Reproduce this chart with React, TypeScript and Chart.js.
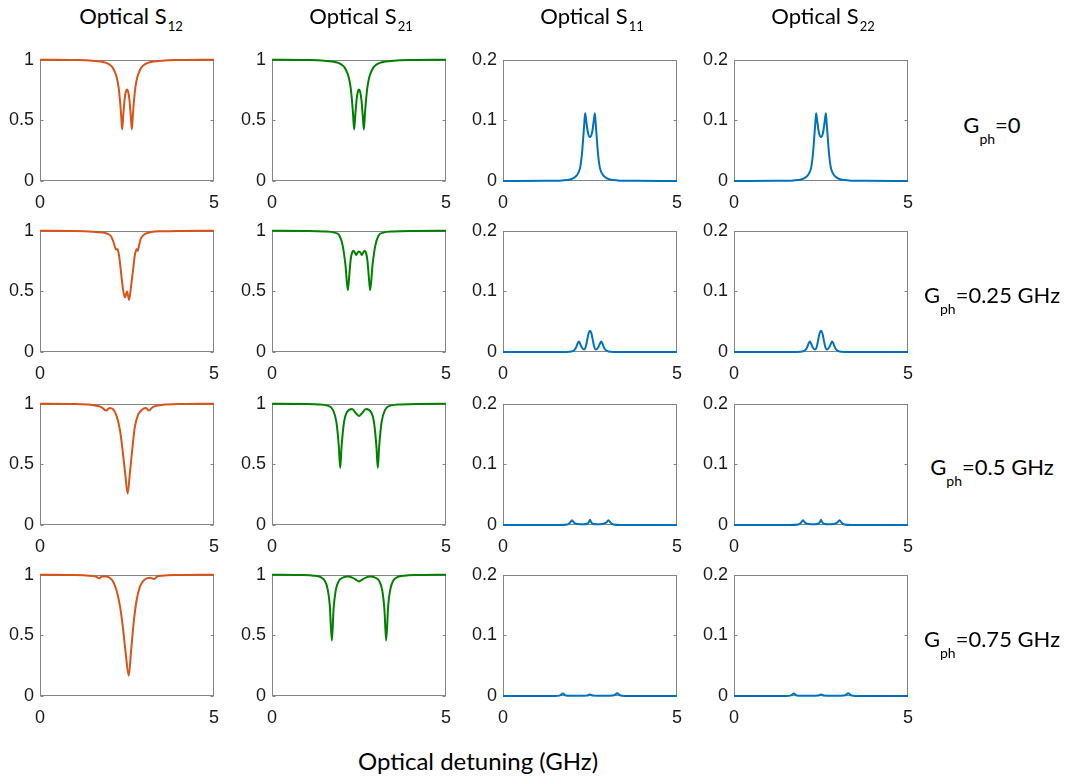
import React, { useEffect, useRef } from "react";
import { Chart, registerables } from "chart.js";

Chart.register(...registerables);

// ---------------- data ----------------
const xTicks = [0, 5];
const transTicks = [0, 0.5, 1];
const reflTicks = [0, 0.1, 0.2];

const columnTitles = ["12", "21", "11", "22"];
const rowLabels = ["=0", "=0.25 GHz", "=0.5 GHz", "=0.75 GHz"];
const axisTitle = "Optical detuning (GHz)";

// Gph = 0 : S12 and S21 (identical)
const tG0X = [0, 1.0, 1.5, 1.75, 1.9, 2.0, 2.08, 2.15, 2.21, 2.26, 2.3, 2.33, 2.36, 2.39, 2.43, 2.47, 2.5, 2.53, 2.57, 2.61, 2.64, 2.67, 2.7, 2.74, 2.79, 2.85, 2.92, 3.0, 3.1, 3.25, 3.5, 4.0, 5.0];
const tG0Y = [1, 0.998, 0.993, 0.985, 0.975, 0.96, 0.94, 0.9, 0.85, 0.77, 0.66, 0.55, 0.425, 0.53, 0.67, 0.74, 0.755, 0.74, 0.67, 0.53, 0.425, 0.55, 0.66, 0.77, 0.85, 0.9, 0.94, 0.96, 0.975, 0.985, 0.993, 0.998, 1];

// Gph = 0.25
const s12G1X = [0, 1.0, 1.5, 1.8, 1.95, 2.04, 2.11, 2.16, 2.19, 2.22, 2.25, 2.28, 2.32, 2.38, 2.44, 2.5, 2.56, 2.62, 2.68, 2.72, 2.75, 2.78, 2.81, 2.84, 2.89, 2.96, 3.05, 3.2, 3.5, 4.0, 5.0];
const s12G1Y = [1, 0.998, 0.993, 0.985, 0.975, 0.955, 0.91, 0.86, 0.845, 0.85, 0.83, 0.78, 0.68, 0.53, 0.45, 0.5, 0.43, 0.55, 0.69, 0.79, 0.83, 0.85, 0.835, 0.87, 0.93, 0.96, 0.978, 0.99, 0.996, 0.999, 1];
const s21G1X = [0, 1.0, 1.5, 1.8, 1.94, 2.03, 2.11, 2.18, 2.22, 2.26, 2.3, 2.34, 2.38, 2.42, 2.46, 2.5, 2.54, 2.58, 2.62, 2.66, 2.7, 2.74, 2.78, 2.82, 2.89, 2.97, 3.06, 3.2, 3.5, 4.0, 5.0];
const s21G1Y = [1, 0.999, 0.995, 0.985, 0.96, 0.88, 0.72, 0.51, 0.63, 0.76, 0.82, 0.835, 0.82, 0.8, 0.82, 0.83, 0.82, 0.8, 0.82, 0.835, 0.82, 0.76, 0.63, 0.51, 0.72, 0.88, 0.96, 0.985, 0.995, 0.999, 1];

// Gph = 0.5
const s12G2X = [0, 1.0, 1.5, 1.75, 1.9, 2.0, 2.1, 2.2, 2.3, 2.38, 2.45, 2.52, 2.58, 2.65, 2.72, 2.82, 2.95, 3.05, 3.12, 3.25, 3.5, 4.0, 5.0];
const s12G2Y = [1, 0.998, 0.99, 0.975, 0.945, 0.965, 0.955, 0.9, 0.78, 0.6, 0.42, 0.26, 0.42, 0.62, 0.8, 0.91, 0.955, 0.965, 0.945, 0.975, 0.99, 0.998, 1];
const s21G2X = [0, 1.0, 1.3, 1.6, 1.75, 1.85, 1.92, 1.96, 2.0, 2.07, 2.15, 2.3, 2.42, 2.5, 2.58, 2.7, 2.85, 2.93, 3.0, 3.04, 3.08, 3.15, 3.25, 3.4, 3.7, 4.2, 5.0];
const s21G2Y = [1, 0.999, 0.995, 0.985, 0.95, 0.85, 0.65, 0.47, 0.65, 0.85, 0.93, 0.957, 0.92, 0.9, 0.92, 0.957, 0.93, 0.85, 0.65, 0.47, 0.65, 0.85, 0.95, 0.985, 0.995, 0.999, 1];

// Gph = 0.75
const s12G3X = [0, 1.0, 1.4, 1.6, 1.7, 1.78, 1.9, 2.0, 2.1, 2.2, 2.3, 2.38, 2.46, 2.55, 2.62, 2.69, 2.77, 2.87, 2.97, 3.07, 3.17, 3.28, 3.36, 3.5, 4.0, 5.0];
const s12G3Y = [1, 0.998, 0.993, 0.985, 0.972, 0.985, 0.985, 0.975, 0.945, 0.87, 0.74, 0.57, 0.36, 0.168, 0.38, 0.6, 0.78, 0.9, 0.95, 0.97, 0.975, 0.965, 0.985, 0.993, 0.998, 1];
const s21G3X = [0, 0.8, 1.2, 1.4, 1.52, 1.6, 1.66, 1.72, 1.77, 1.83, 1.92, 2.05, 2.18, 2.32, 2.44, 2.5, 2.56, 2.68, 2.82, 2.95, 3.08, 3.17, 3.23, 3.28, 3.34, 3.4, 3.48, 3.6, 3.8, 4.2, 5.0];
const s21G3Y = [1, 0.998, 0.993, 0.98, 0.95, 0.88, 0.75, 0.457, 0.72, 0.87, 0.95, 0.978, 0.985, 0.975, 0.955, 0.944, 0.955, 0.975, 0.985, 0.978, 0.95, 0.87, 0.72, 0.457, 0.75, 0.88, 0.95, 0.98, 0.993, 0.998, 1];

// reflection S11 / S22
const rG0X = [0, 1.2, 1.7, 1.95, 2.08, 2.16, 2.22, 2.27, 2.31, 2.34, 2.36, 2.39, 2.44, 2.5, 2.56, 2.61, 2.64, 2.66, 2.69, 2.73, 2.78, 2.84, 2.92, 3.05, 3.3, 3.8, 5.0];
const rG0Y = [0, 0.0003, 0.001, 0.003, 0.007, 0.013, 0.023, 0.045, 0.075, 0.098, 0.112, 0.1, 0.08, 0.0726, 0.08, 0.1, 0.112, 0.098, 0.075, 0.045, 0.023, 0.013, 0.007, 0.003, 0.001, 0.0003, 0];
const rG1X = [0, 1.5, 1.9, 2.0, 2.06, 2.11, 2.15, 2.18, 2.22, 2.27, 2.33, 2.38, 2.42, 2.46, 2.5, 2.54, 2.58, 2.62, 2.67, 2.73, 2.78, 2.82, 2.85, 2.89, 2.94, 3.0, 3.1, 3.5, 5.0];
const rG1Y = [0, 0, 0.0005, 0.0015, 0.004, 0.009, 0.015, 0.0173, 0.013, 0.007, 0.004, 0.009, 0.02, 0.031, 0.035, 0.031, 0.02, 0.009, 0.004, 0.007, 0.013, 0.0173, 0.015, 0.009, 0.004, 0.0015, 0.0005, 0, 0];
const rG2X = [0, 1.6, 1.85, 1.93, 1.98, 2.04, 2.15, 2.3, 2.42, 2.47, 2.5, 2.53, 2.58, 2.7, 2.85, 2.97, 3.03, 3.09, 3.17, 3.4, 5.0];
const rG2Y = [0, 0, 0.0008, 0.004, 0.0078, 0.004, 0.0015, 0.0012, 0.002, 0.005, 0.0085, 0.005, 0.002, 0.0012, 0.0015, 0.004, 0.008, 0.004, 0.0008, 0, 0];
const rG3X = [0, 1.5, 1.64, 1.72, 1.8, 1.95, 2.2, 2.42, 2.5, 2.58, 2.8, 3.05, 3.2, 3.28, 3.36, 3.5, 5.0];
const rG3Y = [0, 0, 0.001, 0.004, 0.001, 0.0005, 0.0003, 0.0008, 0.0025, 0.0008, 0.0003, 0.0005, 0.0012, 0.0045, 0.0012, 0, 0];

// ---------------- style / layout ----------------
const ORANGE = "#D95319";
const GREEN = "#008000";
const BLUE = "#0072BD";
const AXIS_COLOR = "#858585";
const TEXT_COLOR = "#1a1a1a";
const TITLE_FONT = "Lato, 'Open Sans', sans-serif";
const TICK_FONT = "'Liberation Sans', Arial, sans-serif";

const PLOT_W = 176;
const PLOT_H = 124;
const Y_AXIS_W = 45;
const X_AXIS_H = 36;
const PAD = 14;
const colLeft = [40, 272, 503, 734];
const rowTop = [57, 228, 401, 572];

type PanelSpec = { xs: number[]; ys: number[]; color: string; yMax: number; yTicks: number[] };

const rows: PanelSpec[][] = [
  [
    { xs: tG0X, ys: tG0Y, color: ORANGE, yMax: 1, yTicks: transTicks },
    { xs: tG0X, ys: tG0Y, color: GREEN, yMax: 1, yTicks: transTicks },
    { xs: rG0X, ys: rG0Y, color: BLUE, yMax: 0.2, yTicks: reflTicks },
    { xs: rG0X, ys: rG0Y, color: BLUE, yMax: 0.2, yTicks: reflTicks },
  ],
  [
    { xs: s12G1X, ys: s12G1Y, color: ORANGE, yMax: 1, yTicks: transTicks },
    { xs: s21G1X, ys: s21G1Y, color: GREEN, yMax: 1, yTicks: transTicks },
    { xs: rG1X, ys: rG1Y, color: BLUE, yMax: 0.2, yTicks: reflTicks },
    { xs: rG1X, ys: rG1Y, color: BLUE, yMax: 0.2, yTicks: reflTicks },
  ],
  [
    { xs: s12G2X, ys: s12G2Y, color: ORANGE, yMax: 1, yTicks: transTicks },
    { xs: s21G2X, ys: s21G2Y, color: GREEN, yMax: 1, yTicks: transTicks },
    { xs: rG2X, ys: rG2Y, color: BLUE, yMax: 0.2, yTicks: reflTicks },
    { xs: rG2X, ys: rG2Y, color: BLUE, yMax: 0.2, yTicks: reflTicks },
  ],
  [
    { xs: s12G3X, ys: s12G3Y, color: ORANGE, yMax: 1, yTicks: transTicks },
    { xs: s21G3X, ys: s21G3Y, color: GREEN, yMax: 1, yTicks: transTicks },
    { xs: rG3X, ys: rG3Y, color: BLUE, yMax: 0.2, yTicks: reflTicks },
    { xs: rG3X, ys: rG3Y, color: BLUE, yMax: 0.2, yTicks: reflTicks },
  ],
];

const boxPlugin = {
  id: "matlabBox",
  beforeDatasetsDraw(chart: any) {
    const { ctx, chartArea: a, scales } = chart;
    ctx.save();
    ctx.strokeStyle = AXIS_COLOR;
    ctx.lineWidth = 1;
    const l = Math.round(a.left) + 0.5;
    const r = Math.round(a.right) - 0.5;
    const t = Math.round(a.top) + 0.5;
    const b = Math.round(a.bottom) - 0.5;
    ctx.strokeRect(l, t, r - l, b - t);
    const ys = scales.y;
    ctx.beginPath();
    ys.ticks.forEach((tk: any) => {
      const py = Math.round(ys.getPixelForValue(tk.value)) + 0.5;
      ctx.moveTo(l, py);
      ctx.lineTo(l + 3, py);
      ctx.moveTo(r, py);
      ctx.lineTo(r - 3, py);
    });
    ctx.stroke();
    ctx.restore();
  },
};

function Panel({ spec, left, top }: { spec: PanelSpec; left: number; top: number }) {
  const ref = useRef<HTMLCanvasElement | null>(null);
  const W = Y_AXIS_W + PLOT_W + PAD;
  const H = PAD + PLOT_H + X_AXIS_H;
  useEffect(() => {
    if (!ref.current) return;
    const tickFont = { family: TICK_FONT, size: 18 };
    const chart = new Chart(ref.current, {
      type: "line",
      data: {
        datasets: [
          {
            data: spec.xs.map((x, i) => ({ x, y: spec.ys[i] })),
            borderColor: spec.color,
            borderWidth: 2,
            pointRadius: 0,
            fill: false,
            cubicInterpolationMode: "monotone",
            clip: 4,
          } as any,
        ],
      },
      options: {
        animation: false,
        responsive: false,
        maintainAspectRatio: false,
        devicePixelRatio: 1,
        events: [],
        layout: { padding: { left: 0, top: PAD, right: PAD, bottom: 0 } },
        plugins: { legend: { display: false }, tooltip: { enabled: false }, title: { display: false } },
        scales: {
          x: {
            type: "linear",
            min: 0,
            max: 5,
            afterBuildTicks: (ax: any) => {
              ax.ticks = xTicks.map((v) => ({ value: v }));
            },
            afterFit: (s: any) => {
              s.height = X_AXIS_H;
            },
            grid: { display: false, drawTicks: false },
            border: { display: false },
            ticks: {
              padding: 11,
              font: tickFont,
              color: TEXT_COLOR,
              maxRotation: 0,
              autoSkip: false,
              callback: (v: any) => String(v),
            },
          },
          y: {
            type: "linear",
            min: 0,
            max: spec.yMax,
            afterBuildTicks: (ax: any) => {
              ax.ticks = spec.yTicks.map((v) => ({ value: v }));
            },
            afterFit: (s: any) => {
              s.width = Y_AXIS_W;
            },
            grid: { display: false, drawTicks: false },
            border: { display: false },
            ticks: {
              padding: 6,
              font: tickFont,
              color: TEXT_COLOR,
              autoSkip: false,
              callback: (v: any) => String(v),
            },
          },
        },
      } as any,
      plugins: [boxPlugin],
    });
    return () => chart.destroy();
  }, [spec]);
  return (
    <canvas
      ref={ref}
      width={W}
      height={H}
      style={{ position: "absolute", left: left - Y_AXIS_W, top: top - PAD, width: W, height: H }}
    />
  );
}

function TextAt({ cx, baseline, children, size }: any) {
  return (
    <div
      style={{
        position: "absolute",
        left: cx,
        top: baseline - 0.887 * size,
        transform: "translateX(-50%)",
        whiteSpace: "nowrap",
        fontFamily: TITLE_FONT,
        fontSize: size,
        lineHeight: 1,
        color: "#000",
      }}
    >
      {children}
    </div>
  );
}

export default function App() {
  const titleCx = [131, 361, 592, 823];
  const labelBase = [134, 304, 476, 648];
  return (
    <div
      style={{
        position: "absolute",
        left: 0,
        top: 0,
        width: 1071,
        height: 779,
        background: "#fff",
        overflow: "hidden",
      }}
    >
      {rows.map((row, ri) =>
        row.map((spec, ci) => (
          <Panel key={`${ri}-${ci}`} spec={spec} left={colLeft[ci]} top={rowTop[ri]} />
        ))
      )}
      {columnTitles.map((sub, i) => (
        <TextAt key={"t" + i} cx={titleCx[i]} baseline={25} size={22}>
          Optical S
          <span style={{ fontSize: 13, position: "relative", top: 7, marginLeft: 1 }}>{sub}</span>
        </TextAt>
      ))}
      {rowLabels.map((lab, i) => (
        <TextAt key={"r" + i} cx={992} baseline={labelBase[i]} size={22}>
          G<span style={{ fontSize: 14, position: "relative", top: 11 }}>ph</span>
          {lab}
        </TextAt>
      ))}
      <TextAt cx={478} baseline={770} size={24}>
        {axisTitle}
      </TextAt>
    </div>
  );
}
